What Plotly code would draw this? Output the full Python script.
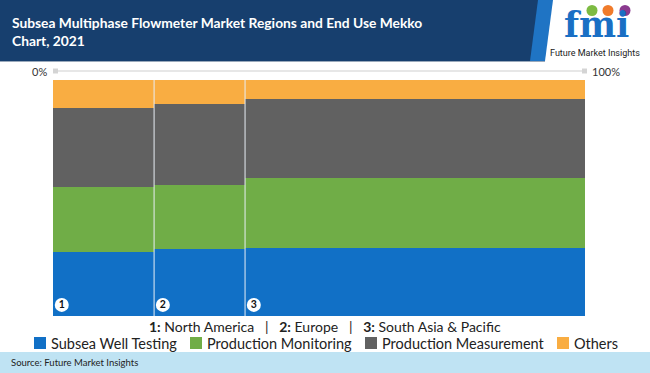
import plotly.graph_objects as go

regions = ["North America", "Europe", "South Asia & Pacific"]
region_nums = ["1", "2", "3"]
region_widths = [19.0, 17.1, 63.9]
segments = ["Subsea Well Testing", "Production Monitoring", "Production Measurement", "Others"]
subsea_well_testing = [27.0, 28.3, 28.8]
production_monitoring = [27.8, 27.3, 29.7]
production_measurement = [33.5, 34.4, 33.3]
others = [11.7, 10.0, 8.2]
colors = ["#1170c6", "#70ad47", "#616161", "#f9ad42"]

W, H = 650, 373
L, R, T, B = 53, 585, 80, 316
FONT = "Lato"


def px(x):
    return (x - L) / (R - L)


def py(y):
    return (B - y) / (B - T)


lefts = []
acc = 0.0
for w in region_widths:
    lefts.append(acc)
    acc += w
centers = [l + w / 2 for l, w in zip(lefts, region_widths)]

fig = go.Figure()
for name, vals, col in zip(segments, [subsea_well_testing, production_monitoring, production_measurement, others], colors):
    fig.add_trace(go.Bar(
        x=centers, y=vals, width=region_widths, name=name,
        marker=dict(color=col, line=dict(width=0)),
        hoverinfo="name+y", showlegend=False,
    ))

# region number badges
fig.add_trace(go.Scatter(
    x=[l + 1.65 for l in lefts], y=[4.7] * len(lefts), mode="markers+text",
    text=["<b>%s</b>" % n for n in region_nums], textposition="middle center",
    textfont=dict(family=FONT, size=10.5, color="#111111"),
    marker=dict(size=14, color="white", line=dict(width=0)),
    showlegend=False, hoverinfo="skip", cliponaxis=False,
))

shapes = []
annotations = []
# column separators
for l in lefts[1:]:
    shapes.append(dict(type="line", xref="x", yref="y", x0=l, x1=l, y0=0, y1=100,
                       line=dict(color="#e8eef5", width=1)))
# header
shapes.append(dict(type="rect", xref="paper", yref="paper", x0=px(0), x1=px(545), y0=py(0), y1=py(61),
                   fillcolor="#173f6e", line=dict(width=0), layer="below"))
shapes.append(dict(type="path", xref="paper", yref="paper",
                   path="M %f,%f L %f,%f L %f,%f L %f,%f Z" % (px(538), py(0), px(553), py(0), px(545), py(61), px(530), py(61)),
                   fillcolor="#1f74c4", line=dict(width=0), layer="below"))
shapes.append(dict(type="line", xref="paper", yref="paper", x0=px(0), x1=px(545), y0=py(61.5), y1=py(61.5),
                   line=dict(color="#9aa9bb", width=1)))
# footer
shapes.append(dict(type="rect", xref="paper", yref="paper", x0=px(0), x1=px(650), y0=py(352), y1=py(373),
                   fillcolor="#bfe3f3", line=dict(width=0), layer="below"))
# top scale line
shapes.append(dict(type="line", xref="paper", yref="paper", x0=px(58), x1=px(582), y0=py(71), y1=py(71),
                   line=dict(color="#cfcfcf", width=1)))
for x0 in (53, 582):
    shapes.append(dict(type="rect", xref="paper", yref="paper", x0=px(x0), x1=px(x0 + 5), y0=py(68.5), y1=py(73.5),
                       fillcolor="#d4d4d4", line=dict(width=0)))
# logo circles
for cx, col in ((592, "#7dbb42"), (608, "#f07b2b"), (625, "#8b3a8f")):
    shapes.append(dict(type="circle", xref="paper", yref="paper", x0=px(cx - 5.5), x1=px(cx + 5.5),
                       y0=py(5), y1=py(16), fillcolor=col, line=dict(width=0)))

# custom legend
legend_sq_x = [34, 190, 365, 557]
for sx, name, col in zip(legend_sq_x, segments, colors):
    shapes.append(dict(type="rect", xref="paper", yref="paper", x0=px(sx), x1=px(sx + 12),
                       y0=py(337), y1=py(349), fillcolor=col, line=dict(width=0)))
    annotations.append(dict(text=name, xref="paper", yref="paper", x=px(sx + 15), y=py(343),
                            xanchor="left", yanchor="middle", showarrow=False,
                            font=dict(family=FONT, size=14.5, color="#222222")))

annotations += [
    dict(text="<b>Subsea Multiphase Flowmeter Market Regions and End Use Mekko<br>Chart, 2021</b>",
         xref="paper", yref="paper", x=px(10), y=py(31), xanchor="left", yanchor="middle", align="left",
         showarrow=False, font=dict(family=FONT, size=13.8, color="white")),
    dict(text="<b>fmi</b>", xref="paper", yref="paper", x=px(596), y=py(46), xanchor="center", yanchor="bottom",
         showarrow=False, borderpad=0, font=dict(family="DejaVu Serif", size=35, color="#1a6fc4")),
    dict(text="Future Market Insights", xref="paper", yref="paper", x=px(595), y=py(46.5), xanchor="center",
         yanchor="top", showarrow=False, borderpad=0, font=dict(family="Roboto", size=9, color="#222222")),
    dict(text="0%", xref="paper", yref="paper", x=px(49), y=py(71), xanchor="right", yanchor="middle",
         showarrow=False, font=dict(family=FONT, size=11, color="#333333")),
    dict(text="100%", xref="paper", yref="paper", x=px(590), y=py(71), xanchor="left", yanchor="middle",
         showarrow=False, font=dict(family=FONT, size=11, color="#333333")),
    dict(text="   |   ".join("<b>%s:</b> %s" % (n, r) for n, r in zip(region_nums, regions)),
         xref="paper", yref="paper", x=px(325), y=py(326), xanchor="center", yanchor="middle",
         showarrow=False, font=dict(family=FONT, size=14, color="#222222")),
    dict(text="Source: Future Market Insights", xref="paper", yref="paper", x=px(9), y=py(362),
         xanchor="left", yanchor="middle", showarrow=False,
         font=dict(family=FONT, size=9.5, color="#222222")),
]

fig.update_layout(
    width=W, height=H,
    margin=dict(l=L, r=W - R, t=T, b=H - B, pad=0, autoexpand=False),
    paper_bgcolor="white", plot_bgcolor="white",
    barmode="stack", bargap=0,
    xaxis=dict(range=[0, 100], visible=False, fixedrange=True),
    yaxis=dict(range=[0, 100], visible=False, fixedrange=True),
    showlegend=False,
    shapes=shapes, annotations=annotations,
)

fig.write_html("out.html", config={"displayModeBar": False},
               post_script="document.body.style.margin='0';document.body.style.padding='0';")
